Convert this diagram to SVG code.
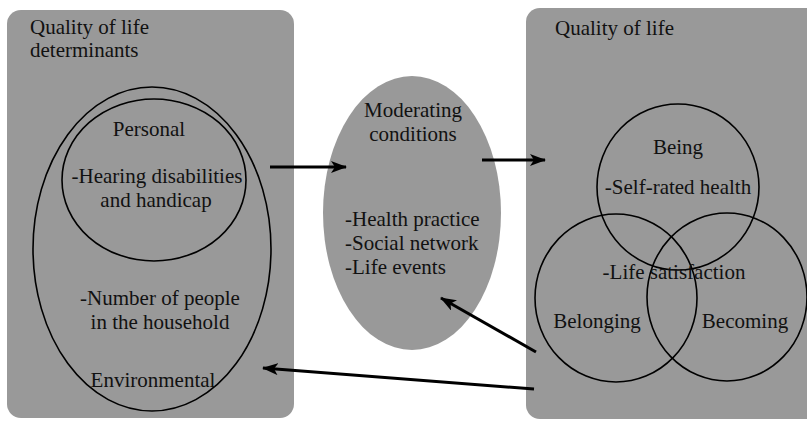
<svg xmlns="http://www.w3.org/2000/svg" width="807" height="422" viewBox="0 0 807 422">
  <defs>
    <marker id="arrow" markerUnits="userSpaceOnUse" markerWidth="16" markerHeight="12" refX="15" refY="6" orient="auto">
      <path d="M0,0 L16,6 L0,12 L4,6 Z" fill="#000"/>
    </marker>
    <style>
      .panel { fill: #999999; }
      .ring { fill: none; stroke: #000; stroke-width: 1.6; }
      .c { text-anchor: middle; }
      .link { stroke: #000; stroke-width: 3; fill: none; marker-end: url(#arrow); }
    </style>
  </defs>
  <rect width="807" height="422" fill="#ffffff"/>

  <g font-family="'Liberation Serif', 'DejaVu Serif', serif" font-size="21" fill="#111">
    <!-- Determinants panel -->
    <g id="determinants">
      <rect class="panel" x="7" y="10" width="287" height="408" rx="14"/>
      <text x="30" y="34">Quality of life</text>
      <text x="30" y="57">determinants</text>
      <ellipse class="ring" cx="152" cy="249" rx="119" ry="162"/>
    </g>
    <g id="personal">
      <ellipse class="ring" cx="154" cy="180" rx="92" ry="81"/>
      <text class="c" x="149" y="136">Personal</text>
      <text class="c" x="157" y="183">-Hearing disabilities</text>
      <text class="c" x="156" y="207">and handicap</text>
    </g>
    <g id="environmental">
      <text class="c" x="160" y="305">-Number of people</text>
      <text class="c" x="160" y="329">in the household</text>
      <text class="c" x="153" y="387">Environmental</text>
    </g>

    <!-- Moderating conditions -->
    <g id="moderating">
      <ellipse class="panel" cx="412" cy="213" rx="89" ry="137"/>
      <text class="c" x="413" y="117">Moderating</text>
      <text class="c" x="413" y="141">conditions</text>
      <text x="345" y="226">-Health practice</text>
      <text x="345" y="250">-Social network</text>
      <text x="345" y="274">-Life events</text>
    </g>

    <!-- Quality of life panel -->
    <g id="quality">
      <rect class="panel" x="526" y="8" width="300" height="411" rx="14"/>
      <text x="555" y="35">Quality of life</text>
    </g>
    <g id="being">
      <ellipse class="ring" cx="678" cy="187" rx="81" ry="83"/>
      <text class="c" x="678" y="154">Being</text>
      <text class="c" x="678" y="194">-Self-rated health</text>
    </g>
    <g id="belonging">
      <ellipse class="ring" cx="616" cy="298" rx="81" ry="84"/>
      <text class="c" x="597" y="328">Belonging</text>
    </g>
    <g id="becoming">
      <ellipse class="ring" cx="727" cy="297" rx="80" ry="84"/>
      <text class="c" x="745" y="328">Becoming</text>
    </g>
    <text class="c" x="674" y="279">-Life satisfaction</text>
  </g>

  <!-- Connectors -->
  <g id="connectors">
    <line class="link" x1="270" y1="167" x2="346" y2="167"/>
    <line class="link" x1="482" y1="160" x2="545" y2="160"/>
    <line class="link" x1="536" y1="352" x2="441" y2="298"/>
    <line class="link" x1="534" y1="389" x2="263" y2="368"/>
  </g>
</svg>
